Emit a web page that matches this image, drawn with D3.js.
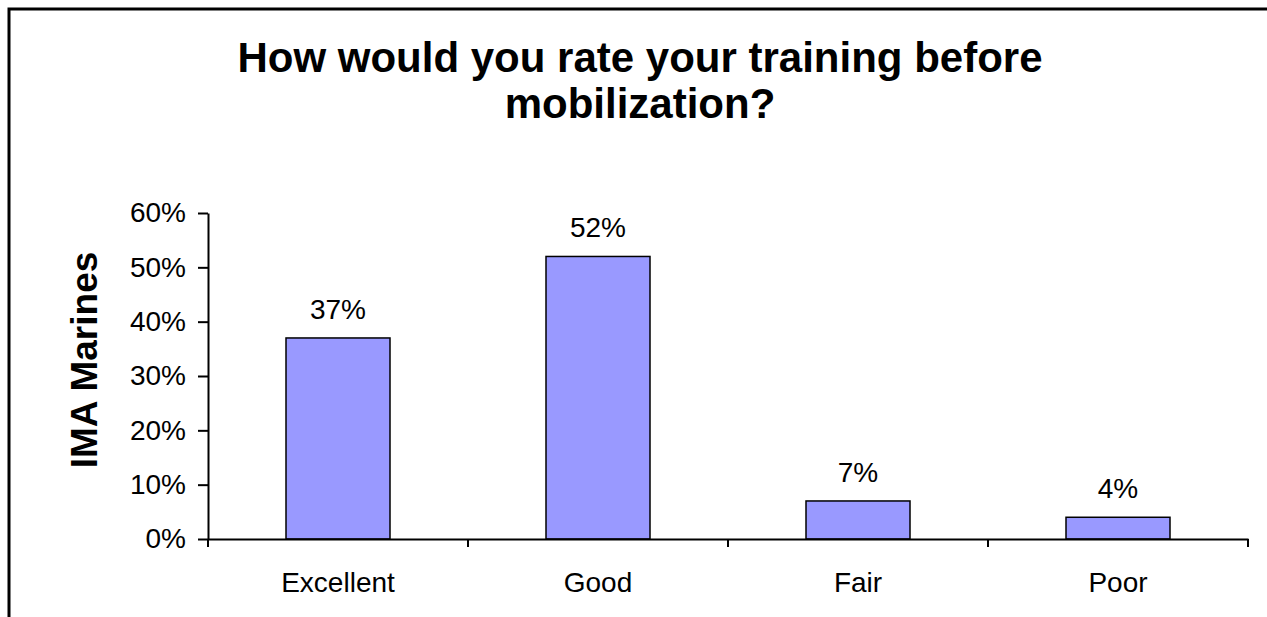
<!DOCTYPE html>
<html>
<head>
<meta charset="utf-8">
<script src="https://cdn.jsdelivr.net/npm/d3@7"></script>
<style>
  body { margin: 0; background: #fff; }
  svg { display: block; font-family: "Liberation Sans", Arial, sans-serif; }
</style>
</head>
<body>
<div id="chart"></div>
<script>
// survey answers
var categories = ["Excellent", "Good", "Fair", "Poor"];
var values = [0.37, 0.52, 0.07, 0.04];
var yTicks = [0, 0.1, 0.2, 0.3, 0.4, 0.5, 0.6];
var titleLines = ["How would you rate your training before", "mobilization?"];
var yTitle = "IMA Marines";

var width = 1267,
    height = 617;
var plotLeft = 208, plotRight = 1248, plotTop = 213, plotBottom = 539;

var svg = d3.select("#chart")
  .append("svg")
  .attr("width", width)
  .attr("height", height);

// frame (only top and left edge are visible)
svg.append("path")
  .attr("d", "M9,617 V9 H1267")
  .attr("fill", "none")
  .attr("stroke", "#000")
  .attr("stroke-width", 3);

// title
svg.append("text")
  .attr("text-anchor", "middle")
  .attr("font-size", 42)
  .attr("font-weight", "bold")
  .selectAll("tspan")
  .data(titleLines)
  .enter()
  .append("tspan")
  .attr("x", 640)
  .attr("y", function(d, i) { return 72 + i * 46; })
  .text(function(d) { return d; });

var x = d3.scaleBand()
  .domain(categories)
  .range([plotLeft, plotRight])
  .paddingInner(0.6)
  .paddingOuter(0.3);

var y = d3.scaleLinear()
  .domain([0, 0.6])
  .range([plotBottom, plotTop]);

// bars
svg.selectAll("rect.bar")
  .data(values)
  .enter()
  .append("rect")
  .attr("class", "bar")
  .attr("x", function(d, i) { return x(categories[i]); })
  .attr("y", function(d) { return y(d); })
  .attr("width", x.bandwidth())
  .attr("height", function(d) { return y(0) - y(d); })
  .attr("fill", "#9999ff")
  .attr("stroke", "#000")
  .attr("stroke-width", 1.5);

// value labels
svg.selectAll("text.val")
  .data(values)
  .enter()
  .append("text")
  .attr("class", "val")
  .attr("x", function(d, i) { return x(categories[i]) + x.bandwidth() / 2; })
  .attr("y", function(d) { return y(d) - 19; })
  .attr("text-anchor", "middle")
  .attr("font-size", 28)
  .text(d3.format(".0%"));

// y axis
var yAxis = svg.append("g")
  .attr("transform", "translate(" + plotLeft + ",0)")
  .call(d3.axisLeft(y)
    .tickValues(yTicks)
    .tickFormat(d3.format(".0%"))
    .tickSize(10)
    .tickSizeOuter(0)
    .tickPadding(12));
yAxis.selectAll("text")
  .attr("font-size", 28)
  .attr("fill", "#000")
  .attr("font-family", null);
yAxis.selectAll("line, path").attr("stroke", "#000").attr("stroke-width", 2);

// x axis with ticks between categories
var xAxis = svg.append("g")
  .attr("transform", "translate(0," + plotBottom + ")")
  .call(d3.axisBottom(x).tickSize(0).tickSizeOuter(0).tickPadding(33));
xAxis.selectAll("text")
  .attr("font-size", 28)
  .attr("fill", "#000")
  .attr("font-family", null);
xAxis.select("path").attr("stroke", "#000").attr("stroke-width", 2);

var bounds = categories.map(function(c) { return x(c) + x.bandwidth() / 2 - x.step() / 2; });
bounds.push(x(categories[categories.length - 1]) + x.bandwidth() / 2 + x.step() / 2);
xAxis.selectAll("line.bound")
  .data(bounds)
  .enter()
  .append("line")
  .attr("class", "bound")
  .attr("x1", function(d) { return d; })
  .attr("x2", function(d) { return d; })
  .attr("y1", 0)
  .attr("y2", 8)
  .attr("stroke", "#000")
  .attr("stroke-width", 2);

// y axis title
svg.append("text")
  .attr("transform", "translate(97,360) rotate(-90)")
  .attr("text-anchor", "middle")
  .attr("font-size", 37)
  .attr("font-weight", "bold")
  .text(yTitle);
</script>
</body>
</html>
